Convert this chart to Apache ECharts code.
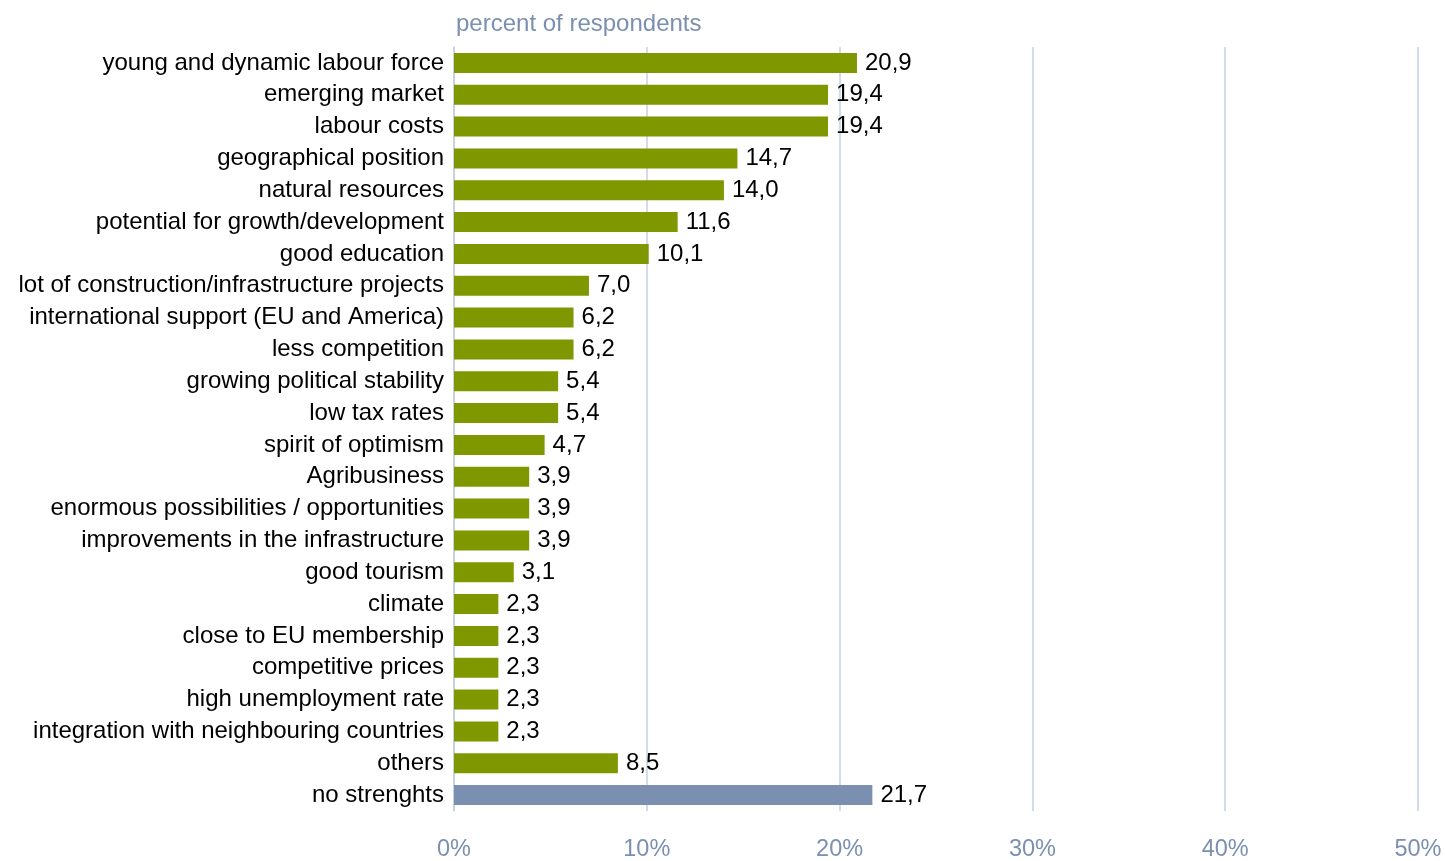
<!DOCTYPE html>
<html>
<head>
<meta charset="utf-8">
<script src="https://cdn.jsdelivr.net/npm/echarts@6/dist/echarts.min.js"></script>
<style>
  html, body { margin: 0; padding: 0; background: #fff; }
  #chart { width: 1445px; height: 861px; }
</style>
</head>
<body>
<div id="chart"></div>
<script>
// categories, top to bottom
const categories = [
  'young and dynamic labour force',
  'emerging market',
  'labour costs',
  'geographical position',
  'natural resources',
  'potential for growth/development',
  'good education',
  'lot of construction/infrastructure projects',
  'international support (EU and America)',
  'less competition',
  'growing political stability',
  'low tax rates',
  'spirit of optimism',
  'Agribusiness',
  'enormous possibilities / opportunities',
  'improvements in the infrastructure',
  'good tourism',
  'climate',
  'close to EU membership',
  'competitive prices',
  'high unemployment rate',
  'integration with neighbouring countries',
  'others',
  'no strenghts'
]
const values = [20.9, 19.4, 19.4, 14.7, 14.0, 11.6, 10.1, 7.0, 6.2, 6.2, 5.4, 5.4, 4.7, 3.9, 3.9, 3.9, 3.1, 2.3, 2.3, 2.3, 2.3, 2.3, 8.5, 21.7]
const xTicks = [0, 10, 20, 30, 40, 50]

const GREEN = '#7f9800'
const BLUE = '#7b8fb0'
const FONT = '"Liberation Sans", Arial, sans-serif'

const chart = echarts.init(document.getElementById('chart'))
chart.setOption({
  animation: false,
  title: {
    text: 'percent of respondents',
    left: 451,
    top: 7,
    textStyle: {color: '#7b8fb0', fontSize: 24, fontWeight: 'normal', fontFamily: FONT}
  },
  // keep the grid where it is, labels may run close to the edge
  grid: {left: 454, right: 27, top: 47, bottom: 50, outerBoundsMode: 'none', containLabel: false},
  xAxis: {
    type: 'value',
    min: xTicks[0],
    max: xTicks[xTicks.length - 1],
    interval: 10,
    axisLine: {show: false},
    axisTick: {show: false},
    splitLine: {lineStyle: {color: '#c3d0e3', width: 1.5}},
    axisLabel: {
      formatter: '{value}%',
      color: '#7b8fb0',
      fontSize: 23.5,
      fontFamily: FONT,
      margin: 27
    }
  },
  yAxis: {
    type: 'category',
    inverse: true,
    data: categories,
    axisLine: {lineStyle: {color: '#c3d0e3', width: 1.5}},
    axisTick: {show: false},
    axisLabel: {color: '#000', fontSize: 24, fontFamily: FONT, margin: 10}
  },
  series: [{
    type: 'bar',
    barWidth: 20,
    data: values.map((v, i) => ({
      value: v,
      itemStyle: {color: i === values.length - 1 ? BLUE : GREEN}
    })),
    label: {
      show: true,
      position: 'right',
      distance: 8,
      color: '#000',
      fontSize: 24,
      fontFamily: FONT,
      formatter: p => p.value.toFixed(1).replace('.', ',')
    }
  }]
})
</script>
</body>
</html>
